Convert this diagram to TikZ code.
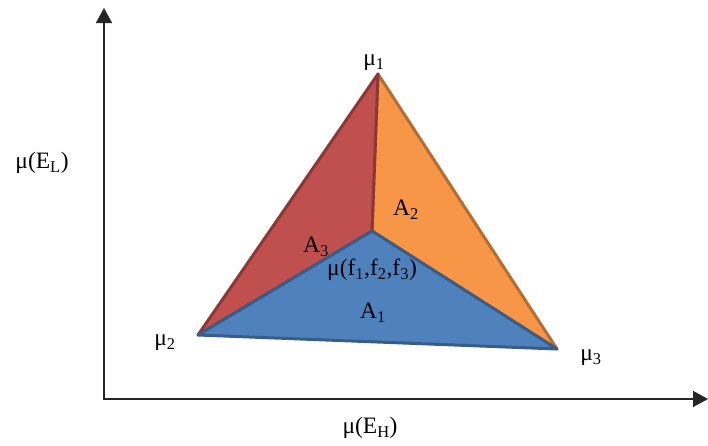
\documentclass[tikz,border=0pt]{standalone}
\usepackage{fontspec}
\setmainfont{Liberation Serif}
\usetikzlibrary{arrows.meta}
\definecolor{redfill}{HTML}{C0504D}
\definecolor{redline}{HTML}{8C3836}
\definecolor{orfill}{HTML}{F79646}
\definecolor{orline}{HTML}{B66D31}
\definecolor{blfill}{HTML}{4F81BD}
\definecolor{blline}{HTML}{385D8A}
\definecolor{axisgray}{HTML}{262626}
\begin{document}
\begin{tikzpicture}[x=1pt,y=-1pt,
  lbl/.style={inner sep=0pt,font=\fontsize{23.5}{26}\selectfont},
  axisline/.style={draw=axisgray,line width=1.6pt,-{Triangle[length=15pt,width=16pt]}},
  facet/.style={line width=3pt,line join=round}]
\useasboundingbox (0,0) rectangle (708,445);
\coordinate (O) at (104,399);
\coordinate (Ytop) at (104,8);
\coordinate (Xend) at (708,399);
\coordinate (P1) at (378,74);
\coordinate (P2) at (198,335);
\coordinate (P3) at (557,349);
\coordinate (C) at (372,231);
% facets
\draw[facet,fill=orfill,draw=orline] (P1) -- (P3) -- (C) -- cycle;
\draw[facet,fill=redfill,draw=redline] (P1) -- (C) -- (P2) -- cycle;
\draw[facet,fill=blfill,draw=blline] (P2) -- (C) -- (P3) -- cycle;
% axes
\draw[axisline] (O) -- (Ytop);
\draw[axisline] ([xshift=-0.8pt]O) -- (Xend);
% labels
\node[lbl] (m1) at (374,63) {μ\textsubscript{1}};
\node[lbl] (m2) at (165,343) {μ\textsubscript{2}};
\node[lbl] (m3) at (591,358) {μ\textsubscript{3}};
\node[lbl] (a3) at (316,247) {A\textsubscript{3}};
\node[lbl] (a2) at (406,210) {A\textsubscript{2}};
\node[lbl] (a1) at (373,313) {A\textsubscript{1}};
\node[lbl] (mf) at (372,270) {μ(f\textsubscript{1},f\textsubscript{2},f\textsubscript{3})};
\node[lbl] (el) at (42,163) {μ(E\textsubscript{L})};
\node[lbl] (eh) at (370,428) {μ(E\textsubscript{H})};
\end{tikzpicture}
\end{document}
